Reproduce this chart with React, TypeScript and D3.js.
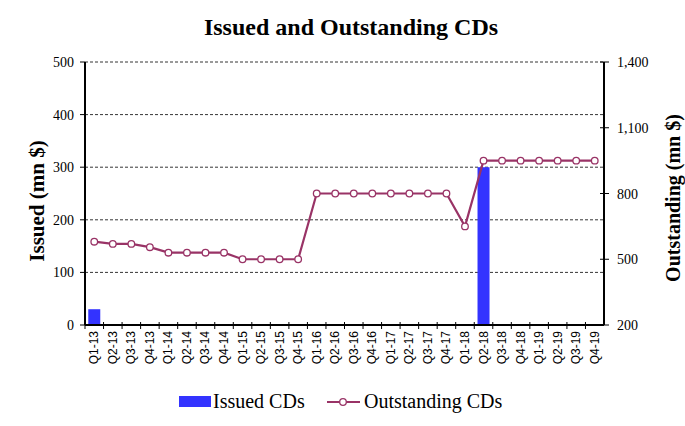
import React from "react";
import * as d3 from "d3";

const categories = ["Q1-13","Q2-13","Q3-13","Q4-13","Q1-14","Q2-14","Q3-14","Q4-14","Q1-15","Q2-15","Q3-15","Q4-15","Q1-16","Q2-16","Q3-16","Q4-16","Q1-17","Q2-17","Q3-17","Q4-17","Q1-18","Q2-18","Q3-18","Q4-18","Q1-19","Q2-19","Q3-19","Q4-19"];
const issued = [30,0,0,0,0,0,0,0,0,0,0,0,0,0,0,0,0,0,0,0,0,300,0,0,0,0,0,0];
const outstanding = [580,570,570,555,530,530,530,530,500,500,500,500,800,800,800,800,800,800,800,800,650,950,950,950,950,950,950,950];
const leftTicks = [0,100,200,300,400,500];
const rightTicks = [200,500,800,1100,1400];

export default function App() {
  const W = 685, H = 426;
  const L = 85, R = 604, T = 62, B = 325;
  const x = d3.scaleBand().domain(categories).range([L, R]);
  const yL = d3.scaleLinear().domain([0, 500]).range([B, T]);
  const yR = d3.scaleLinear().domain([200, 1400]).range([B, T]);
  const bw = x.bandwidth();
  const barW = 12;
  const line = d3.line<number>().x((_, i) => x(categories[i])! + bw / 2).y(d => yR(d));
  const serif = "'Liberation Serif', 'Times New Roman', serif";
  const sans = "'Liberation Sans', Arial, sans-serif";
  const lineColor = "#993366";
  return (
    <svg width={W} height={H} style={{ position: "absolute", left: 0, top: 0 }}>
      <rect width={W} height={H} fill="#fff" />
      <text x={351} y={35} textAnchor="middle" fontFamily={serif} fontWeight="bold" fontSize={24}>Issued and Outstanding CDs</text>
      {leftTicks.filter(t => t > 0).map(t => (
        <line key={t} x1={L} x2={R} y1={yL(t)} y2={yL(t)} stroke="#000" strokeWidth={0.8} strokeDasharray="3,2" />
      ))}
      {issued.map((v, i) => v > 0 ? (
        <rect key={i} x={x(categories[i])! + bw / 2 - barW / 2} y={yL(v)} width={barW} height={yL(0) - yL(v)} fill="#3333FF" />
      ) : null)}
      <path d={line(outstanding)!} fill="none" stroke={lineColor} strokeWidth={2.2} />
      {outstanding.map((v, i) => (
        <circle key={i} cx={x(categories[i])! + bw / 2} cy={yR(v)} r={3.3} fill="#fff" stroke={lineColor} strokeWidth={1.3} />
      ))}
      {/* left axis */}
      <line x1={L} x2={L} y1={T} y2={B} stroke="#000" strokeWidth={2} />
      {leftTicks.map(t => (
        <g key={t}>
          <line x1={L - 5} x2={L} y1={yL(t)} y2={yL(t)} stroke="#000" strokeWidth={1} />
          <text x={L - 11} y={yL(t) + 5} textAnchor="end" fontFamily={serif} fontSize={14}>{t}</text>
        </g>
      ))}
      {/* right axis */}
      <line x1={R} x2={R} y1={T} y2={B} stroke="#000" strokeWidth={2} />
      {rightTicks.map(t => (
        <g key={t}>
          <line x1={R - 4} x2={R + 5} y1={yR(t)} y2={yR(t)} stroke="#000" strokeWidth={1} />
          <text x={R + 13} y={yR(t) + 5} textAnchor="start" fontFamily={serif} fontSize={14}>{d3.format(",")(t)}</text>
        </g>
      ))}
      {/* x axis */}
      <line x1={L} x2={R} y1={B} y2={B} stroke="#000" strokeWidth={2} />
      {categories.map((c, i) => (
        <line key={"t" + i} x1={x(c)!} x2={x(c)!} y1={B - 3} y2={B + 4} stroke="#000" strokeWidth={1} />
      ))}
      {categories.map((c) => (
        <text key={c} transform={`translate(${x(c)! + bw / 2 + 4},${B + 6}) rotate(-90)`} textAnchor="end" fontFamily={sans} fontSize={12}>{c}</text>
      ))}
      <text transform={`translate(44,201) rotate(-90)`} textAnchor="middle" fontFamily={serif} fontWeight="bold" fontSize={21}>Issued (mn $)</text>
      <text transform={`translate(680,198) rotate(-90)`} textAnchor="middle" fontFamily={serif} fontWeight="bold" fontSize={20}>Outstanding  (mn $)</text>
      {/* legend */}
      <rect x={179} y={396} width={32} height={11} fill="#3333FF" />
      <text x={213} y={408} fontFamily={serif} fontSize={20}>Issued CDs</text>
      <line x1={327} x2={360} y1={402} y2={402} stroke={lineColor} strokeWidth={2} />
      <circle cx={343} cy={402} r={3.3} fill="#fff" stroke={lineColor} strokeWidth={1.3} />
      <text x={364} y={408} fontFamily={serif} fontSize={20}>Outstanding CDs</text>
    </svg>
  );
}
